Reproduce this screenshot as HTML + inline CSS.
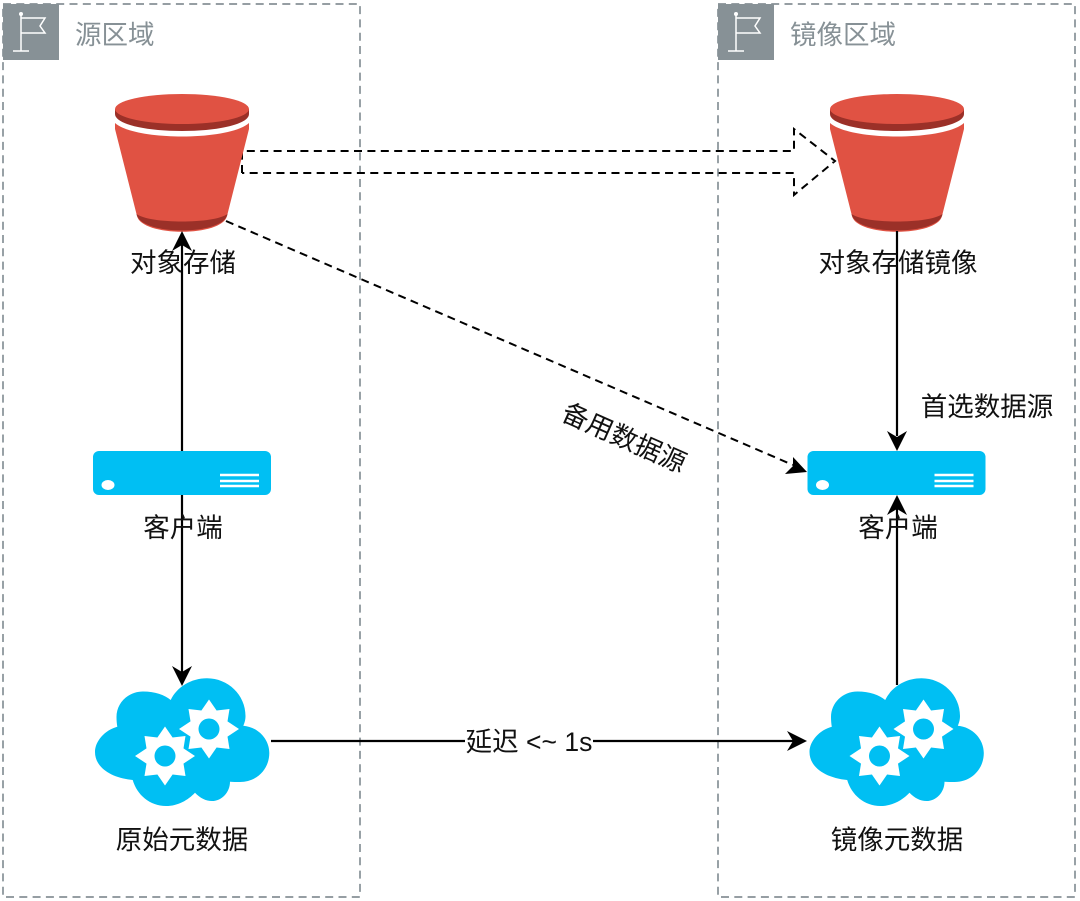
<!DOCTYPE html>
<html>
<head>
<meta charset="utf-8">
<style>
html,body{margin:0;padding:0;background:#fff;width:1080px;height:901px;overflow:hidden}
svg{display:block}
text{font-family:"Liberation Sans","Noto Sans CJK SC",sans-serif;font-size:26.5px;fill:#111;text-anchor:middle}
.g{fill:#879196;text-anchor:start}
</style>
</head>
<body>
<svg width="1080" height="901" viewBox="0 0 1080 901" xmlns="http://www.w3.org/2000/svg">
<defs>
  <g id="flag">
    <rect x="0" y="0" width="56" height="56" fill="#879196"/>
    <path d="M18 10V47M10 47H26M18 14H42L37 22L42 29H18" fill="none" stroke="#fff" stroke-width="1.500"/>
    <circle cx="18" cy="10" r="2" fill="#fff"/>
  </g>
  <g id="bucket">
    <path d="M115 123C135 141 229 141 249 123L249 129L227 216C222 237 142 237 137 216L115 129Z" fill="#e05243"/>
    <path d="M136.500 214C150 224 214 224 227.500 214C224 236 140 236 136.500 214Z" fill="#9b3028"/>
    <path d="M115 109V114C115 124 145 131 182 131C219 131 249 124 249 114V109Z" fill="#9b3028"/>
    <ellipse cx="182" cy="109" rx="67" ry="15" fill="#e05243"/>
  </g>
  <g id="server">
    <rect x="93" y="451" width="178" height="44" rx="6" fill="#00bff3"/>
    <ellipse cx="108" cy="485" rx="6.500" ry="5" fill="#fff"/>
    <path d="M220 475H259M220 481H259M220 486H259" stroke="#fff" stroke-width="2.500"/>
  </g>
  <polygon id="star" fill="#fff" points="0,-29.500 7.600,-18.500 20.500,-20 18.500,-7.600 30,0 18.500,7.600 20.500,20 7.600,18.500 0,29.500 -7.600,18.500 -20.500,20 -18.500,7.600 -30,0 -18.500,-7.600 -20.500,-20 -7.600,-18.500"/>
  <g id="cloud">
    <path fill="#00bff3" d="M170.700 700C165 695 155 691.500 143 691.500C128 691.500 116.500 703 116.500 717C116.500 720 116.800 724 117.300 726.700C105 730 95 741 95 752C95 768 112 778 132.700 780C137 795 150 806 166 806C178 806 188 800 195 792.700C200 798 206 801 212 801C222 801 230 792 230 781.700C233 782 236 782 240 782C257 782 269.300 769 269.300 753C269.300 739 258 727 243.300 725.700C245 722 245.500 719 245.500 716C245.500 695 228 678.300 207 678.300C191 678.300 177 687 170.700 700Z"/>
    <use href="#star" x="165" y="756"/>
    <circle cx="165" cy="756" r="10.500" fill="#00bff3"/>
    <use href="#star" x="209" y="729"/>
    <circle cx="209" cy="729" r="10.500" fill="#00bff3"/>
  </g>
</defs>

<!-- regions -->
<rect x="3" y="4" width="357" height="893" fill="none" stroke="#879196" stroke-width="1.700" stroke-dasharray="8 5.300"/>
<rect x="718" y="4" width="357" height="893" fill="none" stroke="#879196" stroke-width="1.700" stroke-dasharray="8 5.300"/>
<use href="#flag" x="3" y="4"/>
<use href="#flag" x="718" y="4"/>
<text class="g" x="75" y="44">源区域</text>
<text class="g" x="790" y="44">镜像区域</text>

<!-- dashed big arrow -->
<path d="M242 173V151H794V129L835 161L794 195V173H242" fill="none" stroke="#000" stroke-width="2" stroke-dasharray="8 5.400"/>

<!-- icons -->
<use href="#bucket"/>
<use href="#bucket" x="715"/>
<use href="#server"/>
<use href="#server" x="714.500"/>
<use href="#cloud"/>
<use href="#cloud" x="714.500"/>

<!-- connectors -->
<g stroke="#000" stroke-width="2.200" fill="none">
  <path d="M182 451V245"/>
  <path d="M182 495V672"/>
  <path d="M897 231V436"/>
  <path d="M897 685V508"/>
  <path d="M271 741H794"/>
</g>
<path d="M226 221L793 465" fill="none" stroke="#000" stroke-width="2" stroke-dasharray="8 5.400"/>
<g fill="#000">
  <path d="M182 231L192 251L182 245L172 251Z"/>
  <path d="M182 686L172 666L182 672L192 666Z"/>
  <path d="M897 451L887 431L897 437L907 431Z"/>
  <path d="M897 495L907 515L897 509L887 515Z"/>
  <path d="M807 741L787 731L793 741L787 751Z"/>
  <path d="M807 472L785 474L793 466L793 457Z"/>
</g>

<!-- labels -->
<text x="183" y="272">对象存储</text>
<text x="898" y="272">对象存储镜像</text>
<text x="183" y="537">客户端</text>
<text x="898" y="537">客户端</text>
<text x="182" y="849">原始元数据</text>
<text x="897" y="849">镜像元数据</text>
<text x="987" y="416">首选数据源</text>
<text x="624" y="447" transform="rotate(24 624 438)">备用数据源</text>
<rect x="465" y="728" width="128" height="26" fill="#fff"/>
<text x="529" y="751">延迟 &lt;~ 1s</text>
</svg>
</body>
</html>
